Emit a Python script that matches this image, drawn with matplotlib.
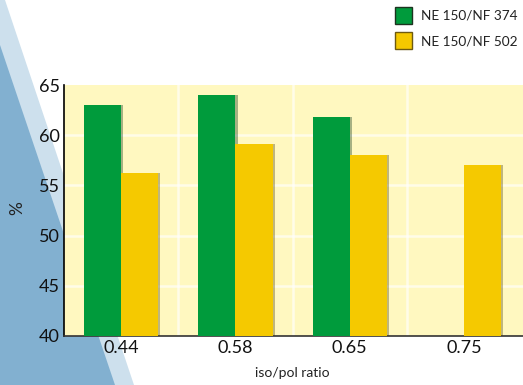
import numpy as np
import matplotlib.pyplot as plt
from matplotlib.patches import Polygon, Rectangle
import matplotlib.patheffects as pe

plt.rcParams['font.family'] = ['Lato', 'DejaVu Sans']

categories = ['0.44', '0.58', '0.65', '0.75']
ne374 = [63.0, 64.0, 61.8, np.nan]
ne502 = [56.2, 59.1, 58.0, 57.0]
series_names = ['NE 150/NF 374', 'NE 150/NF 502']
yticks = [40, 45, 50, 55, 60, 65]

GREEN = '#009b3c'
YELLOW = '#f5c900'
W, H = 523, 385

fig = plt.figure(figsize=(W / 100, H / 100), dpi=100)

# blue diagonal bands behind the chart (pixel coordinates, y from top)
bg = fig.add_axes([0, 0, 1, 1], zorder=0)
bg.set_xlim(0, W)
bg.set_ylim(H, 0)
bg.axis('off')
bg.add_patch(Polygon([(0, 0), (5, 0), (134, H), (0, H)], closed=True,
                     facecolor='#cde0ed', edgecolor='none'))
bg.add_patch(Polygon([(0, 45), (115, H), (0, H)], closed=True,
                     facecolor='#82b0d0', edgecolor='none'))

ax = fig.add_axes([64 / W, (H - 336) / H, (W - 64) / W, (336 - 85) / H], zorder=1)
ax.set_facecolor('#fff8c0')

x = np.arange(len(categories))
bw = 0.325
shadow = [pe.SimplePatchShadow(offset=(1.5, 0), alpha=0.35), pe.Normal()]
ax.bar(x - bw / 2, np.nan_to_num(ne374, nan=0), bw, color=GREEN,
       zorder=3, path_effects=shadow)
ax.bar(x + bw / 2, ne502, bw, color=YELLOW, zorder=3, path_effects=shadow)

ax.set_ylim(40, 65)
ax.set_xlim(-0.5, 3.515)
ax.set_yticks(yticks)
ax.set_xticks(x)
ax.set_xticklabels(categories)

# soft white grid: horizontal at ticks, vertical at category boundaries
for v in yticks[1:-1]:
    ax.axhline(v, color='white', lw=1.8, alpha=0.65, zorder=1)
for b in x[:-1] + 0.5:
    ax.axvline(b, color='white', lw=1.8, alpha=0.65, zorder=1)

for s in ['top', 'right']:
    ax.spines[s].set_visible(False)
ax.spines['left'].set_color('black')
ax.spines['bottom'].set_color('#333333')
ax.spines['left'].set_linewidth(1.2)
ax.spines['bottom'].set_linewidth(1.2)
ax.tick_params(axis='both', length=0, labelsize=13, colors='#111111')
ax.tick_params(axis='y', pad=3)
ax.tick_params(axis='x', pad=3)

fig.text(292 / W, 1 - 373 / H, 'iso/pol ratio', ha='center', va='center',
         fontsize=10, color='#222222')
fig.text(17 / W, 1 - 208 / H, '%', ha='center', va='center', rotation=90,
         fontsize=12.5, color='#222222')

# legend in the top right corner
for i, (name, col, edge) in enumerate(zip(series_names, [GREEN, YELLOW],
                                          ['#1d3320', '#6e5a10'])):
    top = 7 + i * 25
    bg.add_patch(Rectangle((395, top), 17, 17, facecolor=col, edgecolor=edge, lw=1))
    bg.text(421, top + 9, name, ha='left', va='center', fontsize=9.8, color='#222222')

fig.savefig('out.png', dpi=100)
